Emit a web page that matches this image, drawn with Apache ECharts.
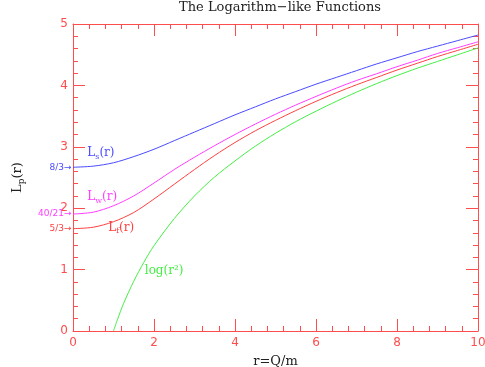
<!DOCTYPE html>
<html>
<head>
<meta charset="utf-8">
<script src="https://cdn.jsdelivr.net/npm/echarts@6/dist/echarts.min.js"></script>
<style>
  html, body { margin: 0; padding: 0; background: #fff; }
  #chart { width: 485px; height: 367px; }
</style>
</head>
<body>
<div id="chart"></div>
<script>
// r = Q/m sample points
const rValues = [0, 0.5, 1, 1.5, 2, 2.5, 3, 3.5, 4, 4.5, 5, 5.5, 6, 6.5, 7, 7.5, 8, 8.5, 9, 9.5, 10]
const lsValues = [2.667, 2.685, 2.74, 2.84, 2.96, 3.10, 3.24, 3.38, 3.52, 3.65, 3.78, 3.90, 4.02, 4.13, 4.24, 4.35, 4.45, 4.55, 4.64, 4.73, 4.82]
const lwValues = [1.905, 1.935, 2.04, 2.20, 2.41, 2.63, 2.83, 3.02, 3.20, 3.37, 3.53, 3.68, 3.82, 3.955, 4.08, 4.19, 4.305, 4.41, 4.52, 4.615, 4.71]
const lfValues = [1.667, 1.69, 1.78, 1.93, 2.15, 2.39, 2.63, 2.86, 3.07, 3.26, 3.43, 3.59, 3.74, 3.88, 4.01, 4.13, 4.25, 4.36, 4.47, 4.57, 4.67]
// log(r^2) only drawn from r = 1
const logR = [1, 1.1, 1.25, 1.5, 1.75, 2, 2.5, 3, 3.5, 4, 4.5, 5, 5.5, 6, 6.5, 7, 7.5, 8, 8.5, 9, 9.5, 10]
const logValues = [0, 0.19, 0.45, 0.81, 1.12, 1.39, 1.83, 2.20, 2.51, 2.77, 3.01, 3.22, 3.41, 3.58, 3.74, 3.89, 4.03, 4.16, 4.28, 4.39, 4.50, 4.61]

const xTicks = [0, 2, 4, 6, 8, 10]
const yTicks = [0, 1, 2, 3, 4, 5]
const startMarks = [
  { text: "8/3", value: 2.667 },
  { text: "40/21", value: 1.905 },
  { text: "5/3", value: 1.667 },
]

const axisRed = "#ff4d4d"
const colors = { s: "#4a4aff", w: "#ff3dff", f: "#ff4040", log: "#44ee44" }

const pairs = (xs, ys) => xs.map((x, i) => [x, ys[i]])

// 曲线旁的文字标注
const curveLabel = (text, coord, color) => ({
  symbol: "circle",
  symbolSize: 1,
  itemStyle: { color: "rgba(0,0,0,0)" },
  coord: coord,
  label: {
    show: true,
    position: "inside",
    formatter: text,
    color: color,
    fontFamily: "DejaVu Serif",
    fontSize: 12,
    rich: { sub: { fontSize: 8, padding: [7, 0, 0, 0], color: color, fontFamily: "DejaVu Serif" } },
  },
})

// r=0 处的起点值
const startLabel = (m, color) => ({
  symbol: "circle",
  symbolSize: 1,
  itemStyle: { color: "rgba(0,0,0,0)" },
  coord: [0, m.value],
  label: {
    show: true,
    position: "left",
    distance: 1,
    formatter: m.text + "\u2192",
    color: color,
    fontFamily: "DejaVu Sans",
    fontSize: 9,
  },
})

const xAxisBase = {
  type: "value",
  min: xTicks[0],
  max: xTicks[xTicks.length - 1],
  interval: 2,
  axisLine: { onZero: false, lineStyle: { color: axisRed, width: 1 } },
  axisTick: { inside: true, length: 12, lineStyle: { color: axisRed } },
  minorTick: { show: true, splitNumber: 5, length: 5, lineStyle: { color: axisRed } },
  splitLine: { show: false },
  minorSplitLine: { show: false },
}
const yAxisBase = {
  type: "value",
  min: yTicks[0],
  max: yTicks[yTicks.length - 1],
  interval: 1,
  axisLine: { show: true, onZero: false, lineStyle: { color: axisRed, width: 1 } },
  axisTick: { show: true, inside: true, length: 12, lineStyle: { color: axisRed } },
  minorTick: { show: true, splitNumber: 5, length: 5, lineStyle: { color: axisRed } },
  splitLine: { show: false },
  minorSplitLine: { show: false },
}

const chart = echarts.init(document.getElementById("chart"))

const option = {
  animation: false,
  backgroundColor: "#fff",
  title: {
    text: "The Logarithm\u2212like Functions",
    left: 275,
    textAlign: "center",
    top: 0,
    padding: [1, 5, 5, 5],
    textStyle: { color: "#222", fontFamily: "DejaVu Serif", fontSize: 13, fontWeight: "normal" },
  },
  grid: { left: 73, right: 7, top: 24, bottom: 36, containLabel: false, outerBoundsMode: "none" },
  xAxis: [
    {
      ...xAxisBase,
      position: "bottom",
      name: "r=Q/m",
      nameLocation: "middle",
      nameGap: 24,
      nameTextStyle: { color: "#222", fontFamily: "DejaVu Serif", fontSize: 13 },
      axisLabel: { color: axisRed, fontFamily: "DejaVu Sans", fontSize: 12, margin: 6 },
    },
    { ...xAxisBase, position: "top", axisLabel: { show: false } },
  ],
  yAxis: [
    {
      ...yAxisBase,
      position: "left",
      name: "L{sub|p}(r)",
      nameLocation: "middle",
      nameGap: 47,
      nameRotate: 90,
      nameTextStyle: {
        color: "#222",
        fontFamily: "DejaVu Serif",
        fontSize: 13,
        rich: { sub: { fontSize: 9, padding: [7, 0, 0, 0], color: "#222", fontFamily: "DejaVu Serif" } },
      },
      axisLabel: { color: axisRed, fontFamily: "DejaVu Sans", fontSize: 12, margin: 5 },
    },
    { ...yAxisBase, position: "right", axisLabel: { show: false } },
  ],
  series: [
    {
      name: "Ls",
      type: "line",
      data: pairs(rValues, lsValues),
      smooth: 0.3,
      showSymbol: false,
      lineStyle: { color: colors.s, width: 1 },
      markPoint: {
        data: [curveLabel("L{sub|s}(r)", [0.69, 2.9], colors.s), startLabel(startMarks[0], colors.s)],
      },
    },
    {
      name: "Lw",
      type: "line",
      data: pairs(rValues, lwValues),
      smooth: 0.3,
      showSymbol: false,
      lineStyle: { color: colors.w, width: 1 },
      markPoint: {
        data: [curveLabel("L{sub|w}(r)", [0.72, 2.18], colors.w), startLabel(startMarks[1], colors.w)],
      },
    },
    {
      name: "Lf",
      type: "line",
      data: pairs(rValues, lfValues),
      smooth: 0.3,
      showSymbol: false,
      lineStyle: { color: colors.f, width: 1 },
      markPoint: {
        data: [curveLabel("L{sub|f}(r)", [1.19, 1.68], colors.f), startLabel(startMarks[2], colors.f)],
      },
    },
    {
      name: "log",
      type: "line",
      data: pairs(logR, logValues),
      smooth: 0.3,
      showSymbol: false,
      lineStyle: { color: colors.log, width: 1 },
      markPoint: {
        data: [curveLabel("log(r\u00b2)", [2.25, 0.98], colors.log)],
      },
    },
  ],
}

chart.setOption(option)
</script>
</body>
</html>
